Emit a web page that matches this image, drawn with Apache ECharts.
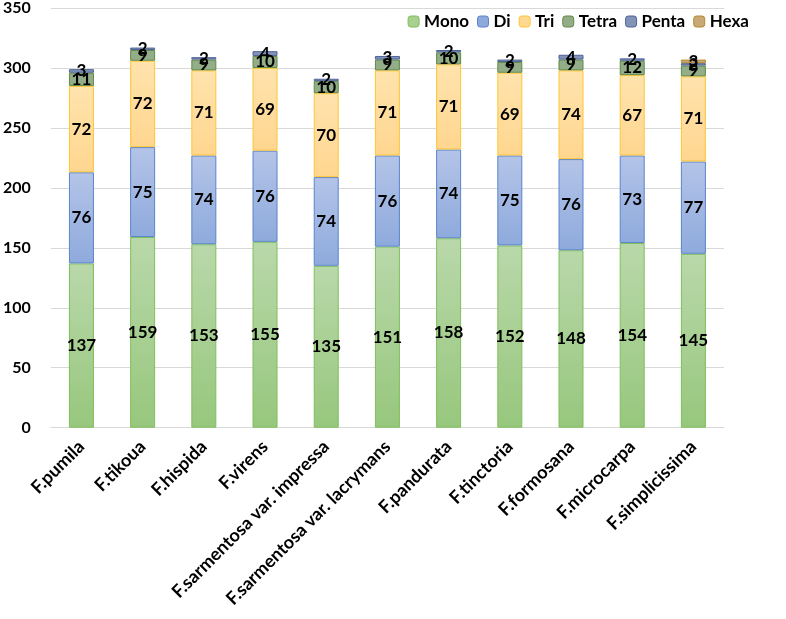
<!DOCTYPE html>
<html>
<head>
<meta charset="utf-8">
<script src="https://cdn.jsdelivr.net/npm/echarts@6/dist/echarts.min.js"></script>
<style>html,body{margin:0;padding:0;background:#fff}#c{width:786px;height:619px}</style>
</head>
<body>
<div id="c"></div>
<script>
const categories = ['F.pumila','F.tikoua','F.hispida','F.virens','F.sarmentosa var. impressa','F.sarmentosa var. lacrymans','F.pandurata','F.tinctoria','F.formosana','F.microcarpa','F.simplicissima'];
const mono  = [137,159,153,155,135,151,158,152,148,154,145];
const di    = [76,75,74,76,74,76,74,75,76,73,77];
const tri   = [72,72,71,69,70,71,71,69,74,67,71];
const tetra = [11,9,9,10,10,9,10,9,9,12,9];
const penta = [3,2,2,4,2,3,2,2,4,2,2];
const hexa  = [0,0,0,0,0,0,0,0,0,0,3];
const yTicks = [0,50,100,150,200,250,300,350];

const FONT = 'Lato, "Open Sans", sans-serif';
function grad(top, bottom){
  return new echarts.graphic.LinearGradient(0,0,0,1,[{offset:0,color:top},{offset:1,color:bottom}]);
}
const styles = [
  {name:'Mono', data:mono, color:grad('#b9d8aa','#97c77d'), border:'#7fbf5a', legend:'#a9d08e'},
  {name:'Di', data:di, color:grad('#b4c4e8','#8eaadc'), border:'#5b84cc', legend:'#8eaadc'},
  {name:'Tri', data:tri, color:grad('#ffe3ad','#ffd68f'), border:'#ffc533', legend:'#ffd98f'},
  {name:'Tetra', data:tetra, color:'#93ad88', border:'#5f8a45', legend:'#93ad88'},
  {name:'Penta', data:penta, color:'#8393b8', border:'#4f6396', legend:'#8393b8'},
  {name:'Hexa', data:hexa, color:'#c8a874', border:'#b58a2e', legend:'#c8a874'}
];

const chart = echarts.init(document.getElementById('c'), null, {renderer:'canvas'});
chart.setOption({
  animation:false,
  backgroundColor:'#fff',
  textStyle:{fontFamily:FONT},
  legend:{
    top:8, right:32, itemWidth:11, itemHeight:11, itemGap:8,
    textStyle:{fontFamily:FONT, fontWeight:'bold', fontSize:17, color:'#000'},
    data: styles.map(s=>({name:s.name, itemStyle:{color:s.legend, borderColor:s.border, borderWidth:1}}))
  },
  grid:{left:48, right:62, top:6.7, bottom:191.3, containLabel:false},
  xAxis:{
    type:'category', data:categories,
    axisLine:{lineStyle:{color:'#d9d9d9'}}, axisTick:{show:false},
    axisLabel:{rotate:45, interval:0, fontFamily:FONT, fontWeight:'bold', fontSize:18, color:'#000', margin:16}
  },
  yAxis:{
    type:'value', min:yTicks[0], max:yTicks[yTicks.length-1], interval:50,
    axisLine:{show:false}, axisTick:{show:false},
    splitLine:{lineStyle:{color:'#d9d9d9'}},
    axisLabel:{fontFamily:FONT, fontWeight:'bold', fontSize:16, color:'#000', margin:20}
  },
  series: styles.map(s=>({
    name:s.name, type:'bar', stack:'all', barWidth:25,
    data:s.data.map(v=> v === 0 ? null : v),
    itemStyle:{color:s.color, borderColor:s.border, borderWidth:1},
    label:{show:true, position:'inside', fontFamily:FONT, fontWeight:'bold', fontSize:17, color:'#000',
      formatter:p=> p.value ? String(p.value) : ''}
  }))
});
</script>
</body>
</html>
